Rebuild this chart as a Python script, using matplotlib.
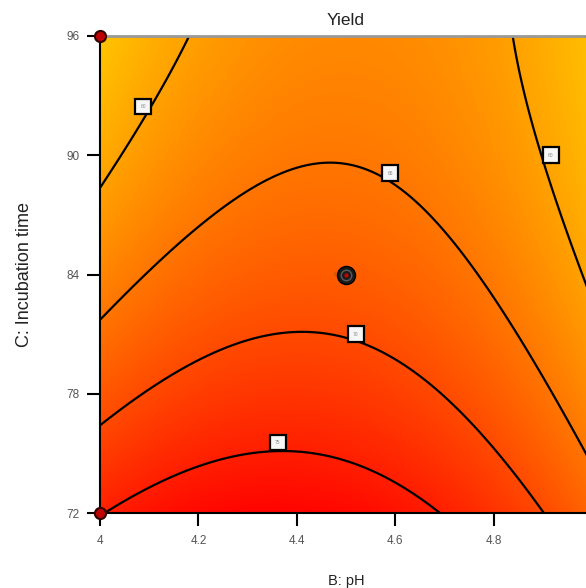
import numpy as np
import matplotlib.pyplot as plt
from matplotlib.colors import LinearSegmentedColormap

plt.rcParams['font.family'] = ['Liberation Sans Narrow', 'Liberation Sans', 'DejaVu Sans']

# factor ranges
ph_lo, ph_hi = 4.0, 5.0
time_lo, time_hi = 72, 96

# coded quadratic model for yield: intercept, B, C, BC, B^2, C^2
coef = [67.9, -1.855, -7.31, 2.12, -6.63, 2.275]
levels = [60, 65, 70, 75]

# where the contour flags sit (pH, time, value)
flag_ph = [4.088, 4.59, 4.916, 4.52, 4.361]
flag_time = [92.45, 89.1, 90.0, 81.0, 75.55]
flag_val = [60, 65, 60, 70, 75]

# design points on the edges and the replicated centre point
design_ph = [4.0, 4.0, 5.0, 5.0]
design_time = [96, 72, 96, 72]
center_ph, center_time, center_reps = 4.5, 84, 6

xticks = [4.0, 4.2, 4.4, 4.6, 4.8, 5.0]
xtick_labels = ['4', '4.2', '4.4', '4.6', '4.8', '5']
yticks = [72, 78, 84, 90, 96]

B = np.linspace(ph_lo, ph_hi, 500)
C = np.linspace(time_lo, time_hi, 500)
BB, CC = np.meshgrid(B, C)
x = (BB - 4.5) / 0.5
y = (CC - 84) / 12
Z = (coef[0] + coef[1] * x + coef[2] * y + coef[3] * x * y
     + coef[4] * x ** 2 + coef[5] * y ** 2)

cmap = LinearSegmentedColormap.from_list('yield', ['#FFCD00', '#FF0000'])

fig = plt.figure(figsize=(5.86, 5.88), dpi=100)
ax = fig.add_axes([100 / 586, 75 / 588, 492 / 586, 477 / 588])

ax.imshow(Z, extent=[ph_lo, ph_hi, time_lo, time_hi], origin='lower',
          aspect='auto', cmap=cmap, vmin=55, vmax=78.5, interpolation='bilinear')
ax.contour(BB, CC, Z, levels=levels, colors='black', linewidths=1.6)

for p, t, v in zip(flag_ph, flag_time, flag_val):
    ax.text(p, t, str(v), fontsize=3.5, color='#888888', ha='center', va='center',
            bbox=dict(boxstyle='square,pad=1.1', fc='#f6f6f6', ec='black', lw=1.6),
            zorder=5)

ax.plot(design_ph, design_time, 'o', ms=8, mfc='#C00000', mec='#300000', mew=1.5,
        clip_on=False, zorder=6)
ax.plot(center_ph, center_time, 'o', ms=13, mfc='#1a1a1a', mec='black', zorder=6)
ax.plot(center_ph, center_time, 'o', ms=7.5, mfc='none', mec='#5a5a5a', mew=1, zorder=7)
ax.plot(center_ph, center_time, 'o', ms=3, mfc='#cc0000', mec='none', zorder=8)
ax.text(center_ph - 0.023, center_time, str(center_reps), fontsize=3.5,
        color='#a05000', ha='center', va='center', zorder=6)

ax.set_xlim(ph_lo, ph_hi)
ax.set_ylim(time_lo, time_hi)
ax.set_xticks(xticks)
ax.set_xticklabels(xtick_labels)
ax.set_yticks(yticks)
ax.tick_params(direction='out', length=9.5, width=1.5, color='black',
               labelcolor='#555555', labelsize=8.5)
ax.tick_params(axis='x', pad=6.5)
ax.tick_params(axis='y', pad=5)

for side in ['left', 'bottom']:
    ax.spines[side].set_linewidth(1.5)
    ax.spines[side].set_color('black')
ax.spines['top'].set_color('#999999')
ax.spines['top'].set_linewidth(2)
ax.spines['right'].set_visible(False)

ax.set_title('Yield', fontsize=12.5, color='#222222', pad=8)
ax.set_xlabel('B: pH', fontsize=10.5, color='#222222')
ax.set_ylabel('C: Incubation time', fontsize=13, color='#222222', labelpad=24)
ax.xaxis.set_label_coords(246 / 492, -61 / 477)

fig.savefig('out.png', dpi=100)
